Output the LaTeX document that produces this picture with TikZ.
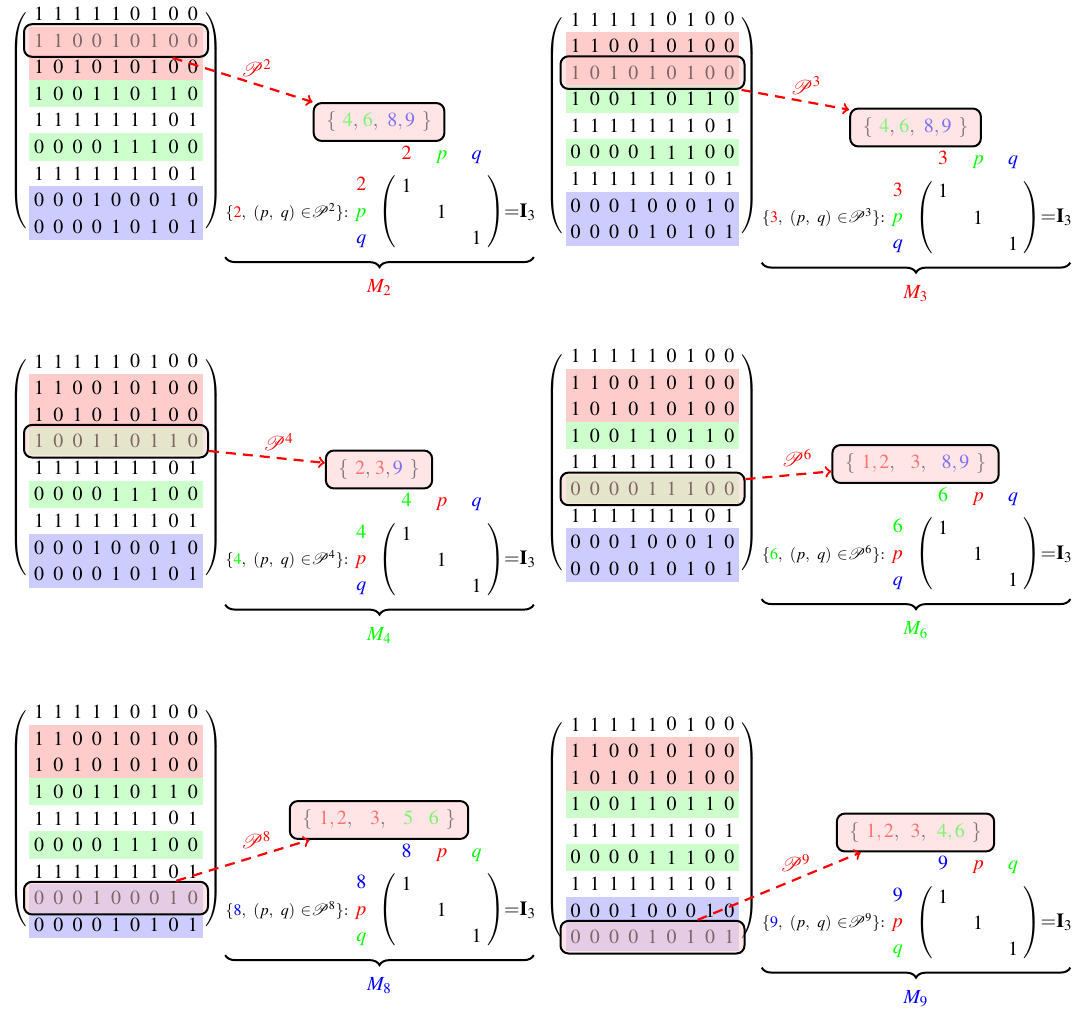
\documentclass[tikz,border=0pt]{standalone}
\usepackage{mathptmx}
\usepackage{mathrsfs}
\usetikzlibrary{matrix,positioning,fit,backgrounds,decorations.pathreplacing}
\tikzset{
	bigmat/.style={matrix of math nodes, inner xsep=0pt, inner ysep=-6pt, nodes={anchor=center, inner sep=0pt, minimum width=9.6pt, minimum height=13.3pt}, left delimiter=(, right delimiter=)},
	smallmat/.style={matrix of math nodes, nodes in empty cells, inner sep=0pt, column sep=9.8pt, nodes={anchor=center, inner sep=0pt, minimum width=7.7pt, minimum height=13.1pt}, left delimiter=(, right delimiter=)},
	rowbox/.style={draw, line width=1pt, rounded corners=4pt, fill=red!20, fill opacity=.5, inner xsep=2.6pt, inner ysep=1.3pt},
	setbox/.style={draw, line width=1pt, rounded corners=4pt, fill=red!10, text opacity=.5, inner xsep=6.3pt, inner ysep=4.5pt},
	lab/.style={inner sep=0pt, text height=7pt, text depth=2pt},
	parrow/.style={->, red, line width=1.1pt, dash pattern=on 5pt off 3.5pt},
	mbrace/.style={decorate, decoration={brace, mirror, amplitude=5pt}, line width=1pt}
}

%% one panel: #1 row k, #2 the set, #3 #4 #5 colours of k, p, q,
%% #6 start anchor on the row box, #7 end anchor on the set box
\newcommand{\panel}[7]{%
	%%big matrix
	\matrix[bigmat, ampersand replacement=\&] (big#1) at (116,120.3) {
		1 \& 1 \& 1 \& 1 \& 1 \& 0 \& 1 \& 0 \& 0 \\
		1 \& 1 \& 0 \& 0 \& 1 \& 0 \& 1 \& 0 \& 0 \\
		1 \& 0 \& 1 \& 0 \& 1 \& 0 \& 1 \& 0 \& 0 \\
		1 \& 0 \& 0 \& 1 \& 1 \& 0 \& 1 \& 1 \& 0 \\
		1 \& 1 \& 1 \& 1 \& 1 \& 1 \& 1 \& 0 \& 1 \\
		0 \& 0 \& 0 \& 0 \& 1 \& 1 \& 1 \& 0 \& 0 \\
		1 \& 1 \& 1 \& 1 \& 1 \& 1 \& 1 \& 0 \& 1 \\
		0 \& 0 \& 0 \& 1 \& 0 \& 0 \& 0 \& 1 \& 0 \\
		0 \& 0 \& 0 \& 0 \& 1 \& 0 \& 1 \& 0 \& 1 \\
	};
	\begin{scope}[on background layer]
		\fill[red!20] (big#1-2-1.north west) rectangle (big#1-3-9.south east);
		\fill[green!20] (big#1-4-1.north west) rectangle (big#1-4-9.south east);
		\fill[green!20] (big#1-6-1.north west) rectangle (big#1-6-9.south east);
		\fill[blue!20] (big#1-8-1.north west) rectangle (big#1-9-9.south east);
	\end{scope}
	\node[rowbox, fit=(big#1-#1-1)(big#1-#1-9)] (row#1) {};
	
	%%the set and the arrow to it
	\node[setbox] (set#1) at (379,122) {#2};
	\draw[parrow] (row#1.#6) -- node[pos=.6, above] {$\mathscr{P}^{#1}$} (set#1.#7);
	
	%%labelled identity
	\matrix[smallmat, ampersand replacement=\&] (id#1) at (441.7,212) {
		1 \& \& \\
		\& 1 \& \\
		\& \& 1 \\
	};
	\node[lab, text=#3, above=4.4pt of id#1-1-1] (ck#1) {$#1$};
	\node[lab, text=#4, above=4.4pt of id#1-1-2] (cp#1) {$p$};
	\node[lab, text=#5, above=4.4pt of id#1-1-3] (cq#1) {$q$};
	\node[lab, text=#3, left=15.9pt of id#1-1-1] (rk#1) {$#1$};
	\node[lab, text=#4, left=15.9pt of id#1-2-1] (rp#1) {$p$};
	\node[lab, text=#5, left=15.9pt of id#1-3-1] (rq#1) {$q$};
	\node[anchor=base east, inner sep=0pt, font=\footnotesize] (txt#1) at ([xshift=-2.8pt]rp#1.base west) {$\{{\color{#3}#1},\ (p,\ q)\ {\in}\mathscr{P}^{#1}\}$:};
	\node[inner sep=0pt, right=9.5pt of id#1] (eq#1) {${=}\mathbf{I}_3$};
	\draw[mbrace] ([yshift=-2.7pt]txt#1.west |- id#1.south) -- ([xshift=24.5pt,yshift=-2.7pt]id#1.south east) node[midway, below=7.6pt, text=#3] (m#1) {$M_{#1}$};
}

\begin{document}
\begin{tikzpicture}[x=0.5pt,y=-0.5pt]
	\useasboundingbox (0,0) rectangle (1080,1011);
	
	%%M2
	\panel{2}{$\{\ {\color{green}4},\,{\color{green}6},\ {\color{blue}8,9}\ \}$}{red}{green}{blue}{-17}{north west}
	
	%%M3
	\begin{scope}[shift={(536.5,5.5)}]
		\panel{3}{$\{\ {\color{green}4},\,{\color{green}6},\ {\color{blue}8,9}\ \}$}{red}{green}{blue}{-11}{165}
	\end{scope}
	
	%%M4
	\begin{scope}[shift={(0,347.5)}]
		\panel{4}{$\{\ {\color{red}2},\,{\color{red}3},{\color{blue}9}\ \}$}{green}{red}{blue}{-6}{173}
	\end{scope}
	
	%%M6
	\begin{scope}[shift={(536.5,342)}]
		\panel{6}{$\{\ {\color{red}1,2},\ \ {\color{red}3},\ \ {\color{blue}8,9}\ \}$}{green}{red}{blue}{6}{185}
	\end{scope}
	
	%%M8
	\begin{scope}[shift={(0,698)}]
		\panel{8}{$\{\ {\color{red}1,2},\ \ \,{\color{red}3},\ \ \,{\color{green}5}\ \ \,{\color{green}6}\ \}$}{blue}{red}{green}{16}{196}
	\end{scope}
	
	%%M9
	\begin{scope}[shift={(536.5,710.5)}]
		\panel{9}{$\{\ {\color{red}1,2},\ \,{\color{red}3},\ \,{\color{green}4,6}\ \}$}{blue}{red}{green}{21}{200}
	\end{scope}
	
\end{tikzpicture}
\end{document}
